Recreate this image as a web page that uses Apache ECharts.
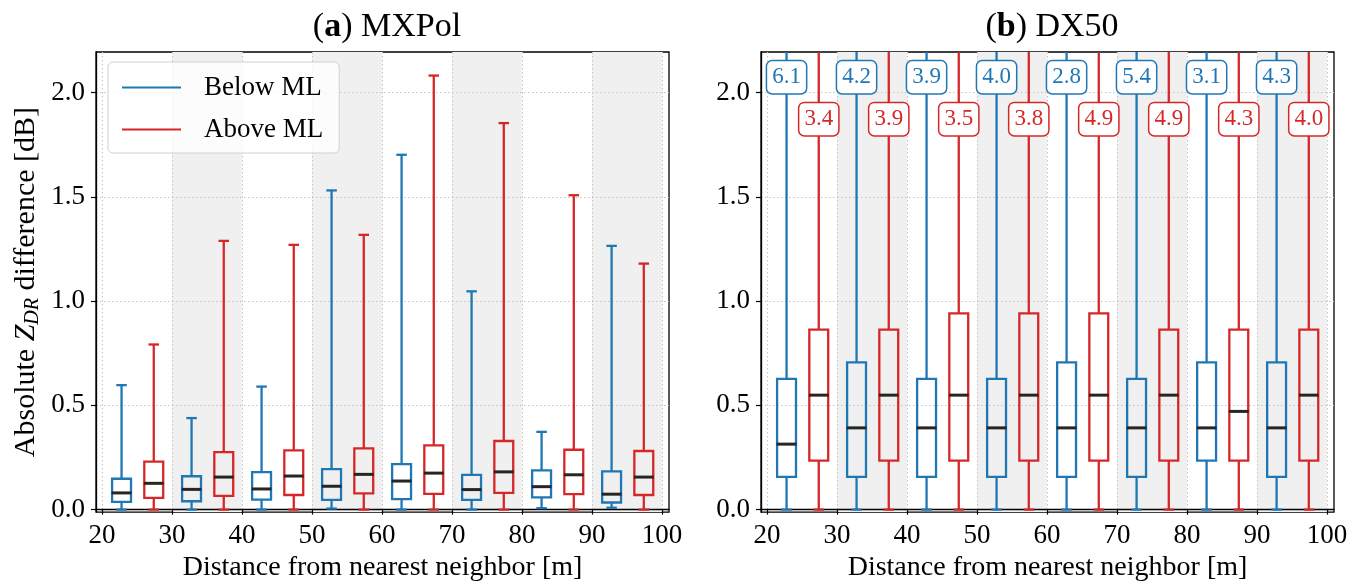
<!DOCTYPE html>
<html>
<head>
<meta charset="utf-8">
<script src="https://cdn.jsdelivr.net/npm/echarts@6/dist/echarts.min.js"></script>
<style>
  html, body { margin: 0; padding: 0; background: #fff; }
  #chart { width: 1359px; height: 587px; }
</style>
</head>
<body>
<div id="chart"></div>
<script>
// Distance bins (m) and the x positions of the two box families
const xTicks = [20, 30, 40, 50, 60, 70, 80, 90, 100];
const yTicks = [0, 0.5, 1.0, 1.5, 2.0];
const shadedBins = [[30, 40], [50, 60], [70, 80], [90, 100]];
const distBelow = [22.8, 32.8, 42.8, 52.8, 62.8, 72.8, 82.8, 92.8];
const distAbove = [27.4, 37.4, 47.4, 57.4, 67.4, 77.4, 87.4, 97.4];

// MXPol: [lower whisker, Q1, median, Q3, upper whisker] in dB
const mxpolBelow = [
  [0.000, 0.037, 0.080, 0.148, 0.597],
  [0.000, 0.040, 0.097, 0.160, 0.439],
  [0.000, 0.048, 0.099, 0.180, 0.590],
  [0.005, 0.047, 0.112, 0.194, 1.531],
  [0.000, 0.050, 0.137, 0.218, 1.702],
  [0.000, 0.047, 0.096, 0.167, 1.047],
  [0.007, 0.059, 0.110, 0.188, 0.373],
  [0.009, 0.034, 0.074, 0.183, 1.265]
];
const mxpolAbove = [
  [0.000, 0.056, 0.126, 0.230, 0.792],
  [0.000, 0.066, 0.156, 0.276, 1.289],
  [0.000, 0.070, 0.161, 0.284, 1.270],
  [0.000, 0.078, 0.169, 0.294, 1.318],
  [0.000, 0.075, 0.175, 0.308, 2.082],
  [0.000, 0.080, 0.181, 0.329, 1.854],
  [0.000, 0.074, 0.167, 0.287, 1.508],
  [0.000, 0.070, 0.156, 0.281, 1.180]
];

// DX50: box quartiles plus the upper whisker (written in the boxed labels)
const dx50BelowQ1  = [0.157, 0.157, 0.157, 0.157, 0.157, 0.157, 0.235, 0.157];
const dx50BelowMed = [0.314, 0.392, 0.392, 0.392, 0.392, 0.392, 0.392, 0.392];
const dx50BelowQ3  = [0.627, 0.706, 0.627, 0.627, 0.706, 0.627, 0.706, 0.706];
const dx50BelowMax = [6.1, 4.2, 3.9, 4.0, 2.8, 5.4, 3.1, 4.3];
const dx50AboveQ1  = [0.235, 0.235, 0.235, 0.235, 0.235, 0.235, 0.235, 0.235];
const dx50AboveMed = [0.549, 0.549, 0.549, 0.549, 0.549, 0.549, 0.471, 0.549];
const dx50AboveQ3  = [0.863, 0.863, 0.941, 0.941, 0.941, 0.863, 0.863, 0.863];
const dx50AboveMax = [3.4, 3.9, 3.5, 3.8, 4.9, 4.9, 4.3, 4.0];
const dx50Min = 0;

const BLUE = '#1f77b4';
const RED = '#d62728';
const FONT = '"Liberation Serif", "DejaVu Serif", serif';
const TICK_FS = 27;
const NAME_FS = 28;
const BOX_W = 2.7;   // box width in axis units (m)
const CAP_W = 1.5;   // whisker cap width in axis units (m)
const LABEL_Y_BELOW = 2.074;
const LABEL_Y_ABOVE = 1.873;

function boxRows(xs, stats) {
  return xs.map((x, i) => [x].concat(stats[i]));
}
function dxRows(xs, q1, med, q3, mx) {
  return xs.map((x, i) => [x, dx50Min, q1[i], med[i], q3[i], mx[i]]);
}

function makeBoxRenderer(color) {
  return function (params, api) {
    const cs = params.coordSys;
    const top = cs.y, bottom = cs.y + cs.height;
    const x = api.value(0);
    const cx = api.coord([x, 0])[0];
    const hb = api.size([BOX_W, 0])[0] / 2;
    const hc = api.size([CAP_W, 0])[0] / 2;
    const py = v => api.coord([x, v])[1];
    const clampY = y => Math.max(top, Math.min(bottom, y));
    const yLo = py(api.value(1)), yQ1 = py(api.value(2)), yMed = py(api.value(3));
    const yQ3 = py(api.value(4)), yHiRaw = py(api.value(5));
    const yHi = clampY(yHiRaw);
    const st = { stroke: color, lineWidth: 2.3, fill: null };
    const children = [
      { type: 'line', shape: { x1: cx, y1: yQ3, x2: cx, y2: yHi }, style: st },
      { type: 'line', shape: { x1: cx, y1: yQ1, x2: cx, y2: yLo }, style: st },
      { type: 'line', shape: { x1: cx - hc, y1: yLo, x2: cx + hc, y2: yLo }, style: st },
      { type: 'rect', shape: { x: cx - hb, y: yQ3, width: 2 * hb, height: yQ1 - yQ3 }, style: st },
      { type: 'line', shape: { x1: cx - hb - 0.5, y1: yMed, x2: cx + hb + 0.5, y2: yMed },
        style: { stroke: '#262626', lineWidth: 3 } }
    ];
    if (yHiRaw >= top) {
      children.push({ type: 'line', shape: { x1: cx - hc, y1: yHi, x2: cx + hc, y2: yHi }, style: st });
    }
    return { type: 'group', children: children };
  };
}

function makeLabelRenderer(color, labelY) {
  return function (params, api) {
    const x = api.value(0);
    const p = api.coord([x, labelY]);
    return {
      type: 'text',
      x: p[0], y: p[1],
      style: {
        text: api.value(5).toFixed(1),
        fill: color,
        font: '23px ' + FONT,
        align: 'center',
        verticalAlign: 'middle',
        backgroundColor: '#fff',
        borderColor: color,
        borderWidth: 1.5,
        borderRadius: 5,
        padding: [5, 5, 4, 5]
      }
    };
  };
}

function bandRenderer(params, api) {
  const cs = params.coordSys;
  const x0 = api.coord([api.value(0), 0])[0];
  const x1 = api.coord([api.value(1), 0])[0];
  return { type: 'rect', shape: { x: x0, y: cs.y, width: x1 - x0, height: cs.height },
           style: { fill: '#f0f0f0' } };
}

const textBase = { fontFamily: FONT, color: '#000' };

function xAxisOf(gridIndex) {
  return {
    type: 'value', gridIndex: gridIndex, min: 19.15, max: 101, z: 3,
    name: 'Distance from nearest neighbor [m]', nameLocation: 'middle', nameGap: 40,
    nameTextStyle: Object.assign({ fontSize: NAME_FS }, textBase),
    axisLine: { show: true, lineStyle: { color: '#000', width: 1.3 } },
    axisTick: { show: true, length: 5, lineStyle: { color: '#000', width: 1.2 }, customValues: xTicks },
    axisLabel: Object.assign({ fontSize: TICK_FS, margin: 10, customValues: xTicks, formatter: v => String(v) }, textBase),
    splitLine: { show: true, lineStyle: { color: '#c4c4c4', type: [1.5, 2.5], width: 1 } }
  };
}
function yAxisOf(gridIndex, named) {
  const ax = {
    type: 'value', gridIndex: gridIndex, min: -0.012, max: 2.195, z: 3,
    axisLine: { show: true, lineStyle: { color: '#000', width: 1.3 } },
    axisTick: { show: true, length: 5, lineStyle: { color: '#000', width: 1.2 }, customValues: yTicks },
    axisLabel: Object.assign({ fontSize: TICK_FS, margin: 11, customValues: yTicks, formatter: v => v.toFixed(1) }, textBase),
    splitLine: { show: true, lineStyle: { color: '#c4c4c4', type: [1.5, 2.5], width: 1 } }
  };
  if (named) {
    ax.name = '{t|Absolute }{z|Z}{s|DR}{t| difference [dB]}';
    ax.nameLocation = 'middle';
    ax.nameGap = 53;
    ax.nameTextStyle = {
      fontFamily: FONT, color: '#000', fontSize: 30,
      rich: {
        t: { fontFamily: FONT, fontSize: 30, color: '#000', lineHeight: 34 },
        z: { fontFamily: FONT, fontSize: 30, color: '#000', fontStyle: 'italic', lineHeight: 34 },
        s: { fontFamily: FONT, fontSize: 20, color: '#000', fontStyle: 'italic', lineHeight: 15, verticalAlign: 'bottom' }
      }
    };
  }
  return ax;
}

const gridBase = { top: 52, width: 573, height: 464, show: true, borderColor: '#000', borderWidth: 1.3, backgroundColor: 'transparent' };
const titleStyle = { fontFamily: FONT, fontSize: 34, fontWeight: 'normal', color: '#000',
  rich: { b: { fontFamily: FONT, fontSize: 34, fontWeight: 'bold', color: '#000' } } };

const option = {
  animation: false,
  backgroundColor: '#fff',
  textStyle: { fontFamily: FONT },
  title: [
    { text: '({b|a}) MXPol', left: 382, top: 5, textAlign: 'center', textStyle: titleStyle },
    { text: '({b|b}) DX50', left: 1047, top: 5, textAlign: 'center', textStyle: titleStyle }
  ],
  legend: {
    left: 108, top: 62, orient: 'vertical',
    data: ['Below ML', 'Above ML'],
    icon: 'rect', itemWidth: 59, itemHeight: 2, itemGap: 13,
    padding: [11, 16, 9, 14],
    backgroundColor: 'rgba(255,255,255,0.8)',
    borderColor: '#d0d0d0', borderWidth: 1, borderRadius: 5,
    formatter: name => '{g|}' + name,
    textStyle: { fontFamily: FONT, fontSize: 27, color: '#000', lineHeight: 29,
      rich: { g: { width: 18 } } },
    z: 10
  },
  grid: [
    Object.assign({ left: 96 }, gridBase),
    Object.assign({ left: 761 }, gridBase)
  ],
  xAxis: [xAxisOf(0), xAxisOf(1)],
  yAxis: [yAxisOf(0, true), yAxisOf(1, false)],
  series: [
    { type: 'custom', xAxisIndex: 0, yAxisIndex: 0, z: 1, silent: true,
      renderItem: bandRenderer, data: shadedBins },
    { type: 'custom', xAxisIndex: 1, yAxisIndex: 1, z: 1, silent: true,
      renderItem: bandRenderer, data: shadedBins },
    { name: 'Below ML', type: 'custom', xAxisIndex: 0, yAxisIndex: 0, z: 4,
      itemStyle: { color: BLUE }, renderItem: makeBoxRenderer(BLUE),
      data: boxRows(distBelow, mxpolBelow) },
    { name: 'Above ML', type: 'custom', xAxisIndex: 0, yAxisIndex: 0, z: 4,
      itemStyle: { color: RED }, renderItem: makeBoxRenderer(RED),
      data: boxRows(distAbove, mxpolAbove) },
    { name: 'Below ML', type: 'custom', xAxisIndex: 1, yAxisIndex: 1, z: 4,
      itemStyle: { color: BLUE }, renderItem: makeBoxRenderer(BLUE),
      data: dxRows(distBelow, dx50BelowQ1, dx50BelowMed, dx50BelowQ3, dx50BelowMax) },
    { name: 'Above ML', type: 'custom', xAxisIndex: 1, yAxisIndex: 1, z: 4,
      itemStyle: { color: RED }, renderItem: makeBoxRenderer(RED),
      data: dxRows(distAbove, dx50AboveQ1, dx50AboveMed, dx50AboveQ3, dx50AboveMax) },
    { type: 'custom', xAxisIndex: 1, yAxisIndex: 1, z: 6, silent: true,
      renderItem: makeLabelRenderer(BLUE, LABEL_Y_BELOW),
      data: dxRows(distBelow, dx50BelowQ1, dx50BelowMed, dx50BelowQ3, dx50BelowMax) },
    { type: 'custom', xAxisIndex: 1, yAxisIndex: 1, z: 6, silent: true,
      renderItem: makeLabelRenderer(RED, LABEL_Y_ABOVE),
      data: dxRows(distAbove, dx50AboveQ1, dx50AboveMed, dx50AboveQ3, dx50AboveMax) }
  ]
};

const chart = echarts.init(document.getElementById('chart'), null, { renderer: 'canvas' });
chart.setOption(option);
</script>
</body>
</html>
